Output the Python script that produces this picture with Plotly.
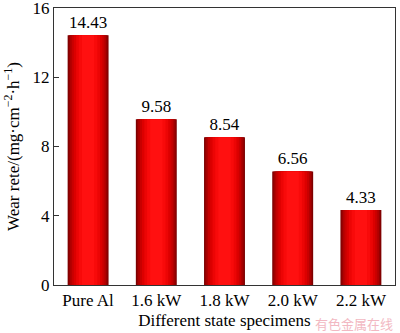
import plotly.graph_objects as go

categories = ["Pure Al", "1.6 kW", "1.8 kW", "2.0 kW", "2.2 kW"]
wear_rate = [14.43, 9.58, 8.54, 6.56, 4.33]
y_ticks = [0, 4, 8, 12, 16]

FONT = "Liberation Serif, Times New Roman, serif"

# layered bars to imitate the horizontal red gradient (dark edges, bright centre)
layers = [
    (0.60, "#7a0000"),
    (0.57, "#960000"),
    (0.53, "#b00000"),
    (0.48, "#c80000"),
    (0.42, "#dc0000"),
    (0.35, "#ec0505"),
    (0.27, "#f80a0a"),
    (0.18, "#ff1010"),
]

fig = go.Figure()
for i, (w, c) in enumerate(layers):
    fig.add_trace(go.Bar(
        x=categories, y=wear_rate, width=w,
        marker=dict(color=c, line=dict(width=0)),
        text=[f"{v:.2f}" for v in wear_rate] if i == 0 else None,
        textposition="outside" if i == 0 else "none",
        textfont=dict(family=FONT, size=17, color="black"),
        constraintext="none",
        cliponaxis=False, hoverinfo="skip", showlegend=False,
    ))

fig.update_layout(
    width=400, height=333,
    barmode="overlay",
    paper_bgcolor="white", plot_bgcolor="white",
    margin=dict(l=54, r=5, t=8, b=48, autoexpand=False),
    font=dict(family=FONT, size=16, color="black"),
    showlegend=False,
)
fig.update_xaxes(
    automargin=False,
    showline=True, linecolor="#333", linewidth=1, mirror=True,
    ticks="", tickfont=dict(size=17),
    title=dict(text="Different state specimens", font=dict(size=17), standoff=4),
)
fig.update_yaxes(
    automargin=False, ticklabeloverflow="allow",
    range=[0, 16], tickvals=y_ticks, showgrid=False, zeroline=False,
    showline=True, linecolor="#333", linewidth=1, mirror=True,
    ticks="inside", ticklen=5, tickcolor="#333", tickfont=dict(size=17),
    title=dict(text="Wear rete/(mg·cm<sup>−2</sup>·h<sup>−1</sup>)", font=dict(size=17), standoff=8),
)
fig.add_annotation(
    text="有色金属在线", xref="paper", yref="paper", x=1.0, y=-0.14,
    xanchor="right", yanchor="middle", showarrow=False,
    font=dict(family="Noto Sans CJK SC", size=13, color="#f2b8c2"),
)

fig.write_html("out.html", config={"displayModeBar": False},
               post_script="document.body.style.margin='0';")
